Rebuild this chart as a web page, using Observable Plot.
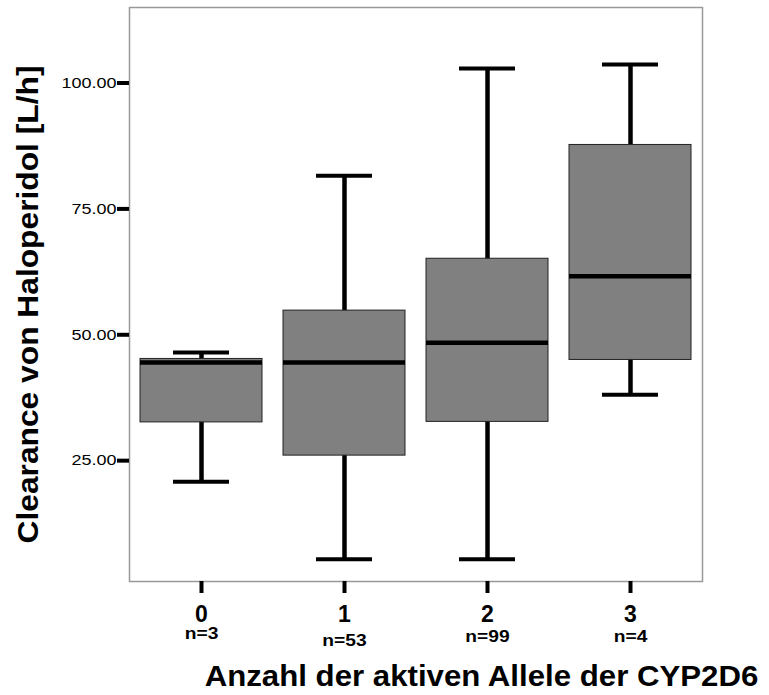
<!DOCTYPE html>
<html>
<head>
<meta charset="utf-8">
<script src="https://cdn.jsdelivr.net/npm/d3@7"></script>
<script src="https://cdn.jsdelivr.net/npm/@observablehq/plot@0.6"></script>
<style>
  html, body { margin: 0; padding: 0; background: #fff; }
  #chart { width: 769px; height: 695px; }
</style>
</head>
<body>
<div id="chart"></div>
<script>
// Data
const groups  = ["0", "1", "2", "3"];
const counts  = [3, 53, 99, 4];
const lowWhisker  = [20.8, 5.4, 5.4, 38.1];
const q1          = [32.6, 26.0, 32.7, 45.0];
const medians     = [44.5, 44.5, 48.4, 61.6];
const q3          = [45.2, 54.8, 65.1, 87.7];
const highWhisker = [46.5, 81.6, 102.9, 103.7];
const yTicks = [25, 50, 75, 100];
const xTitle = "Anzahl der aktiven Allele der CYP2D6";
const yTitle = "Clearance von Haloperidol [L/h]";

const rows = groups.map((g, i) => ({
  group: g, n: counts[i], lo: lowWhisker[i], q1: q1[i],
  med: medians[i], q3: q3[i], hi: highWhisker[i]
}));

const font = "Liberation Sans, Arial, Helvetica, sans-serif";
const nText = d => "n=" + d.n;
const nStyle = {x: "group", text: nText, frameAnchor: "bottom", lineAnchor: "middle", fontSize: 16, fontWeight: "bold"};

const chart = Plot.plot({
  width: 769,
  height: 695,
  marginLeft: 129,
  marginRight: 67,
  marginTop: 7,
  marginBottom: 114,
  style: {fontFamily: font, background: "#fff", color: "#000"},
  x: {domain: groups, paddingInner: 0.15, paddingOuter: 0.075, label: null},
  y: {domain: [1, 115], label: null},
  marks: [
    Plot.frame({stroke: "#999", strokeWidth: 1.5}),
    Plot.axisY({ticks: yTicks, tickFormat: d3.format(".2f"), tickSize: 12, tickPadding: 1,
      strokeWidth: 4, fontSize: 15, label: null}),
    Plot.axisX({tickSize: 12, tickPadding: 12, strokeWidth: 4, fontSize: 23, fontWeight: "bold", label: null}),
    Plot.ruleX(rows, {x: "group", y1: "lo", y2: "hi", stroke: "#000", strokeWidth: 4.5}),
    Plot.barY(rows, {x: "group", y1: "q1", y2: "q3", fill: "#808080", stroke: "#222", strokeWidth: 1}),
    Plot.tickY(rows, {x: "group", y: "med", stroke: "#000", strokeWidth: 4.5}),
    Plot.tickY(rows, {x: "group", y: "hi", stroke: "#000", strokeWidth: 4, insetLeft: 33, insetRight: 33}),
    Plot.tickY(rows, {x: "group", y: "lo", stroke: "#000", strokeWidth: 4, insetLeft: 33, insetRight: 33}),
    Plot.text(rows.filter(d => d.group === "0"), {...nStyle, dy: 52.5}),
    Plot.text(rows.filter(d => d.group === "1"), {...nStyle, dy: 59}),
    Plot.text(rows.filter(d => d.group === "2" || d.group === "3"), {...nStyle, dy: 55.8}),
    Plot.text([xTitle], {text: d => d, frameAnchor: "bottom", textAnchor: "middle", lineAnchor: "middle",
      dx: 65.5, dy: 94.4, fontSize: 30, fontWeight: "bold"}),
    Plot.text([yTitle], {text: d => d, frameAnchor: "left", textAnchor: "middle", lineAnchor: "middle",
      rotate: -90, dx: -101, dy: 10, fontSize: 30, fontWeight: "bold"})
  ]
});
document.getElementById("chart").appendChild(chart);

// The reference's text is drawn slightly wider than the font's natural width
function stretch(sel, k) {
  sel.each(function () {
    const w = this.getComputedTextLength();
    this.setAttribute("textLength", w * k);
    this.setAttribute("lengthAdjust", "spacingAndGlyphs");
  });
}
const allText = d3.select(chart).selectAll("text");
stretch(d3.select(chart).selectAll('g[aria-label="y-axis tick label"] text'), 1.2);
stretch(allText.filter(function () { return /^n=/.test(this.textContent); }), 1.2);
stretch(allText.filter(function () { return this.textContent === xTitle; }), 1.04);
stretch(allText.filter(function () { return this.textContent === yTitle; }), 1.058);
</script>
</body>
</html>
